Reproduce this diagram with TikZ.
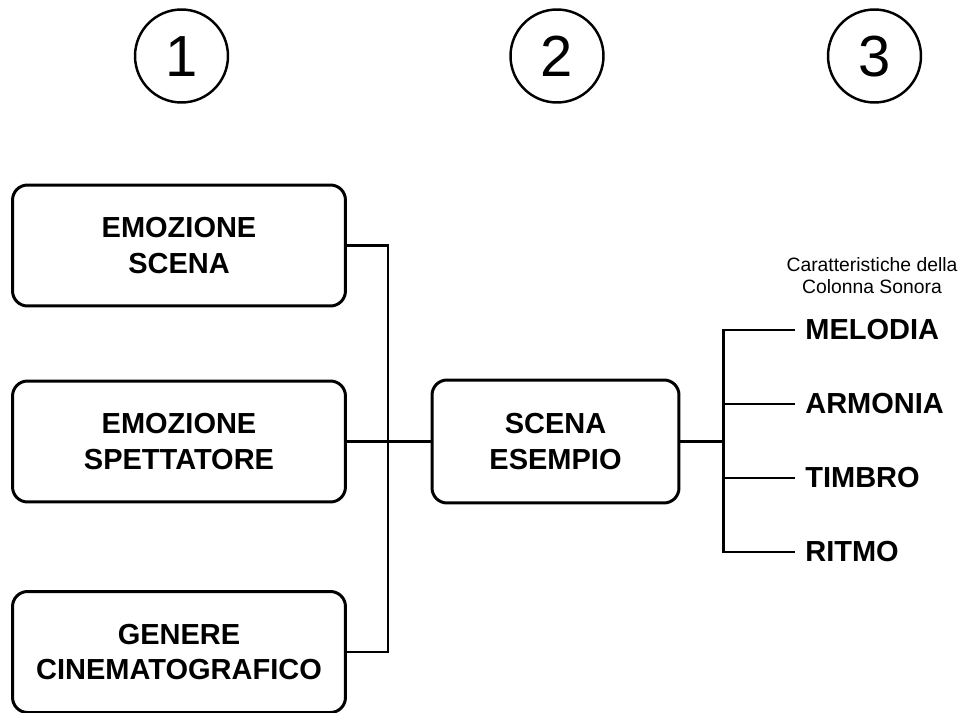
\documentclass[tikz,border=0pt]{standalone}
\usepackage{fontspec}
\setmainfont{Liberation Sans}
\tikzset{
  stepbox/.style={draw, line width=1.7pt, rounded corners=0.3cm, align=center,
    minimum width=6.66cm, minimum height=2.42cm,
    font=\fontsize{16.5}{20}\selectfont\bfseries},
  numring/.style={draw, circle, line width=1.4pt, minimum size=1.86cm, inner sep=0pt,
    text height=23.6pt, text depth=0pt, font=\fontsize{33}{33}\selectfont},
  featlabel/.style={anchor=west, inner xsep=0.2cm,
    font=\fontsize{16.5}{20}\selectfont\bfseries},
  link/.style={line width=1.7pt}
}
\begin{document}
\begin{tikzpicture}[x=0.02cm, y=-0.02cm]
\useasboundingbox (0,0) rectangle (967,713);

% numbers on top
\draw (181.5,56) node[numring] (n1) {1};
\draw (557,56) node[numring] (n2) {2};
\draw (874.5,56) node[numring] (n3) {3};

% input boxes
\draw (179,245.5) node[stepbox] (es) {EMOZIONE\\SCENA};
\draw (179,441.5) node[stepbox] (sp) {EMOZIONE\\SPETTATORE};
\draw (179,652) node[stepbox] (gc) {GENERE\\CINEMATOGRAFICO};

% central box
\draw (555.5,441.5) node[stepbox, minimum width=4.94cm, minimum height=2.46cm] (se) {SCENA\\ESEMPIO};

% features
\draw (795,330) node[featlabel] (mel) {MELODIA};
\draw (795,404) node[featlabel] (arm) {ARMONIA};
\draw (795,478) node[featlabel] (tim) {TIMBRO};
\draw (795,552) node[featlabel] (rit) {RITMO};
\draw (872,276) node[align=center, font=\fontsize{11}{12.5}\selectfont] (cap) {Caratteristiche della\\Colonna Sonora};

\coordinate (j1) at (388,441.5);
\coordinate (j2) at (723,441.5);

\draw[link] (es.east) -| (j1) |- (gc.east);
\draw[link] (sp.east) -- (se.west);
\draw[link] (se.east) -- (j2);
\draw[link] (mel.west) -| (j2) |- (rit.west);
\draw[link] (arm.west) -- (arm.west -| j2);
\draw[link] (tim.west) -- (tim.west -| j2);
\end{tikzpicture}
\end{document}
